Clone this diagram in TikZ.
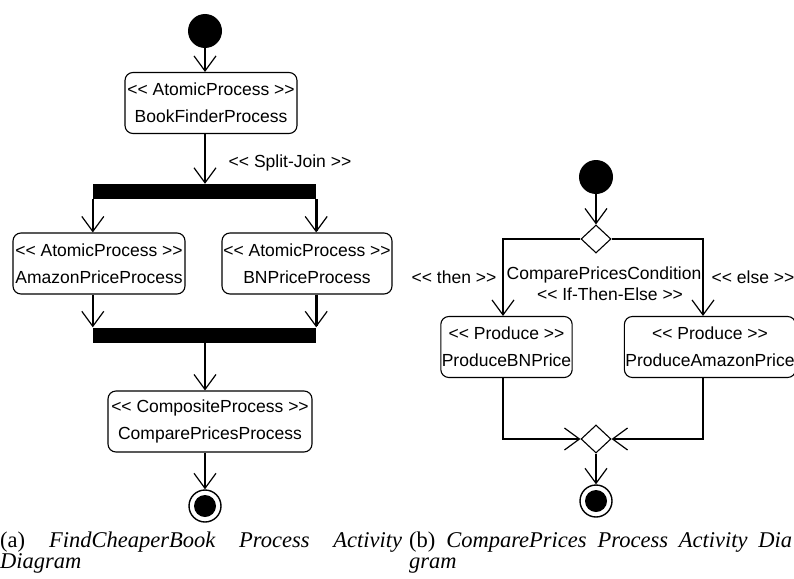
\documentclass[tikz,border=0pt]{standalone}
\usepackage{fontspec}
\setmainfont{Liberation Serif}
\setsansfont{Liberation Sans}
\usepackage{tikz}
\usetikzlibrary{arrows.meta,shapes.geometric,positioning}

\newcommand{\stereo}[1]{<\kern0pt< #1 >\kern0pt>}

\begin{document}
\begin{tikzpicture}[x=1pt,y=-1pt,
      proc/.style={
            rectangle, rounded corners=8pt, draw,
            line width=1.1pt, align=center,
            minimum height=61pt, inner xsep=1pt,
            font=\sffamily\fontsize{17.5}{27}\selectfont
        },
      bar/.style={rectangle, fill=black, minimum height=15pt, inner sep=0pt},
      startnode/.style={circle, fill=black, minimum size=34pt, inner sep=0pt},
      endnode/.style={circle, draw, line width=1.4pt, minimum size=32pt, inner sep=0pt,
            path picture={\fill (path picture bounding box.center) circle (11pt);}},
      decide/.style={diamond, draw, fill=white, line width=1.1pt,
            minimum width=30pt, minimum height=28pt, inner sep=0pt},
      note/.style={font=\sffamily\fontsize{17.5}{22}\selectfont, inner sep=0pt},
      subcap/.style={font=\fontsize{22.5}{20.5}\selectfont, inner sep=0pt, align=left},
      >={Straight Barb[length=15pt,width=22pt,line width=1.2pt]},
      flow/.style={->, line width=2.6pt},
      branch/.style={->, line width=1.2pt}
      ]
    \useasboundingbox (0,0) rectangle (794,578);

    % (a) FindCheaperBook
    \node[startnode] (s1) at (205,31) {};
    \node[proc, minimum width=172pt] (book) at (211,103) {\stereo{AtomicProcess}\\BookFinderProcess};
    \node[bar, minimum width=223pt] (fork) at (204.5,191.5) {};
    \node[note] (splitlbl) at (290,163) {\stereo{Split-Join}};
    \node[proc, minimum width=172pt] (amazon) at (99,263.5) {\stereo{AtomicProcess}\\AmazonPriceProcess};
    \node[proc, minimum width=170pt] (bn) at (307,263.5) {\stereo{AtomicProcess}\\BNPriceProcess};
    \node[bar, minimum width=223pt] (join) at (204.5,335) {};
    \node[proc, minimum width=204pt] (compare) at (210,421.5) {\stereo{CompositeProcess}\\ComparePricesProcess};
    \node[endnode] (e1) at (205,506) {};

    \draw[flow] (s1) -- (s1 |- book.north);
    \draw[flow] (book.south -| s1) -- (fork.north -| s1);
    \draw[flow] (fork.south west) -- (fork.south west |- amazon.north);
    \draw[flow] (fork.south east) -- (fork.south east |- bn.north);
    \draw[flow] (amazon.south -| join.north west) -- (join.north west);
    \draw[flow] (bn.south -| join.north east) -- (join.north east);
    \draw[flow] (join.south -| e1) -- (compare.north -| e1);
    \draw[flow] (compare.south -| e1) -- (e1);

    % (b) ComparePrices
    \node[startnode] (s2) at (596,177) {};
    \node[decide] (cond) at (596,239) {};
    \node[note] (thenlbl) at (454,277) {\stereo{then}};
    \node[note] (condlbl) at (604,275) {ComparePricesCondition};
    \node[note] (itelbl) at (610,294) {\stereo{If-Then-Else}};
    \node[note] (elselbl) at (753,277) {\stereo{else}};
    \node[proc, minimum width=131pt] (pbn) at (506.5,347) {\stereo{Produce}\\ProduceBNPrice};
    \node[proc, minimum width=166pt] (pamz) at (710,347) {\stereo{Produce}\\ProduceAmazonPrice};
    \node[decide] (merge) at (596,439) {};
    \node[endnode] (e2) at (596,501) {};

    \draw[flow] (s2) -- (cond);
    \draw[branch] (cond.west) -| ([xshift=-3.5pt]pbn.north);
    \draw[branch] (cond.east) -| ([xshift=-7pt]pamz.north);
    \draw[branch] ([xshift=-3.5pt]pbn.south) |- (merge.west);
    \draw[branch] ([xshift=-7pt]pamz.south) |- (merge.east);
    \draw[flow] (merge) -- (e2);

    % captions
    \node[subcap, anchor=north west] (capa) at (0,532) {\makebox[402pt][s]{(a) \textit{FindCheaperBook Process Activity}}\\\textit{Diagram}};
    \node[subcap, anchor=north west] (capb) at (409,532) {\makebox[383pt][s]{(b) \textit{ComparePrices Process Activity Dia}}\\\textit{gram}};
  \end{tikzpicture}
\end{document}
